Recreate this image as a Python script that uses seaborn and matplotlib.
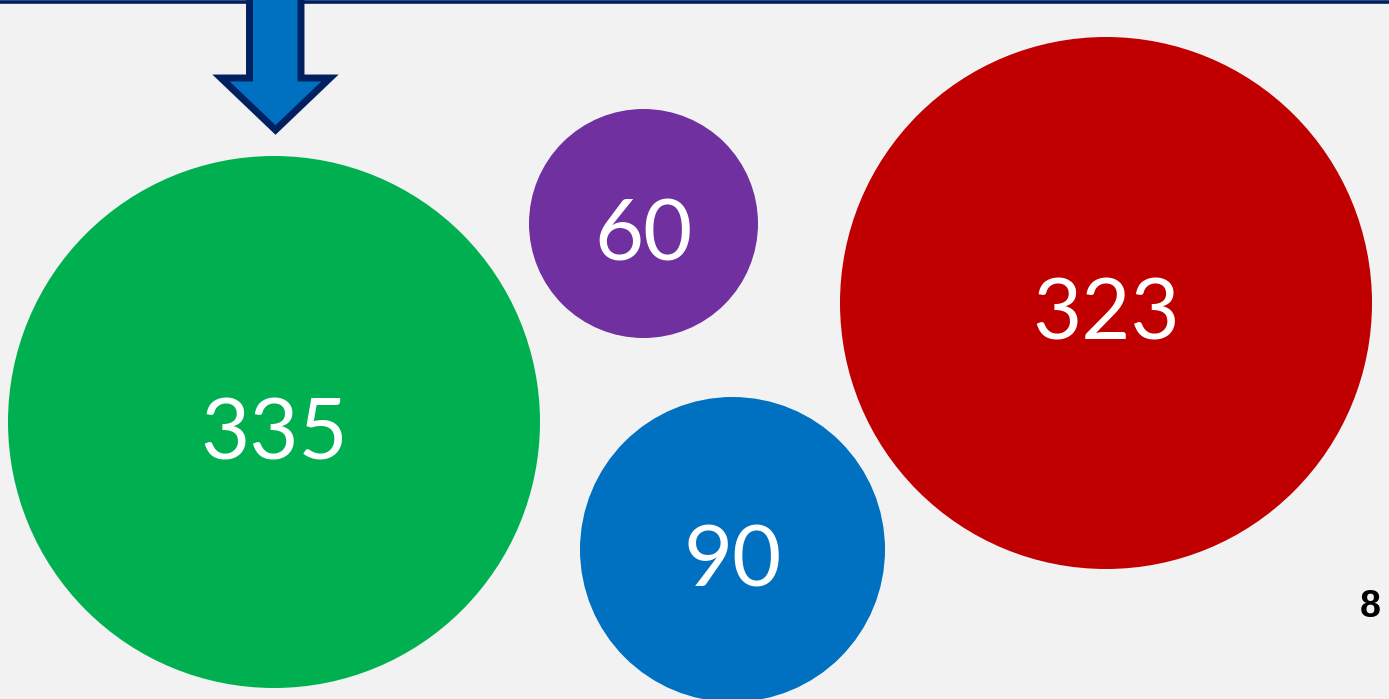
import numpy as np
import pandas as pd
import seaborn as sns
import matplotlib.pyplot as plt
from matplotlib.patches import Polygon

# Bubble data (pixel layout of the slide)
labels = ['335', '60', '323', '90']
values = [335, 60, 323, 90]
bubble_x = [274, 643.5, 1106, 732.5]
bubble_y = [422, 223.5, 303, 549.5]
diameters = [532, 229, 532, 305]
colors = ['#00B050', '#7030A0', '#C00000', '#0070C0']

W, H, DPI = 1389, 699, 100
navy = '#002060'

df = pd.DataFrame({'x': bubble_x, 'y': bubble_y, 'value': values, 'label': labels})
# marker area in points^2 from pixel diameter
sizes = {v: (d * 72 / DPI) ** 2 for v, d in zip(values, diameters)}
palette = dict(zip(labels, colors))

sns.set_style('white')
plt.rcParams['font.family'] = ['Lato', 'DejaVu Sans']

fig = plt.figure(figsize=(W / DPI, H / DPI), dpi=DPI, facecolor='#F2F2F2')
ax = fig.add_axes([0, 0, 1, 1])
ax.set_facecolor('#F2F2F2')

sns.scatterplot(data=df, x='x', y='y', hue='label', palette=palette,
                size='value', sizes=sizes, linewidth=0, legend=False, ax=ax, zorder=2)

for _, row in df.iterrows():
    ax.text(row['x'], row['y'] + 37, row['label'], color='white', fontsize=61,
            ha='center', va='baseline', zorder=3)

# top rule and arrow
ax.axhline(1.5, color=navy, lw=2.6, zorder=4)
arrow = Polygon([(249.5, -10), (301, -10), (301, 78), (330, 78), (275.5, 130),
                 (221, 78), (249.5, 78)], closed=True, facecolor='#0070C0',
                edgecolor=navy, lw=5, joinstyle='miter', zorder=5)
ax.add_patch(arrow)

ax.text(1370, 617, '8', fontsize=27, fontweight='bold', color='black',
        family=['Liberation Sans', 'DejaVu Sans'], ha='center', va='baseline')

ax.set_xlim(0, W)
ax.set_ylim(H, 0)
ax.axis('off')

plt.savefig('out.png', dpi=DPI, facecolor=fig.get_facecolor())
plt.close()
